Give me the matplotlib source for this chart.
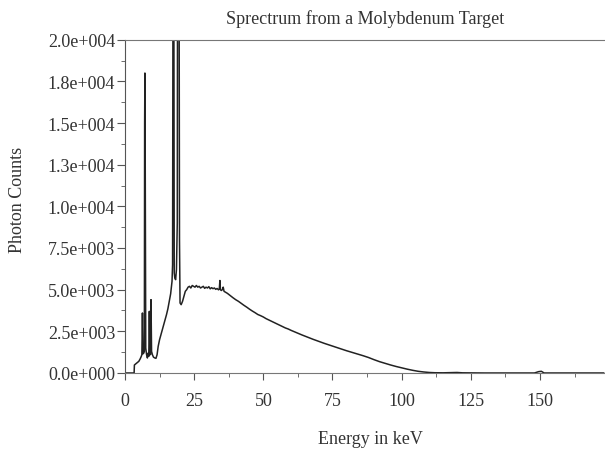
import matplotlib.pyplot as plt
from matplotlib.ticker import MultipleLocator

# === data ===
energy_kev = [0, 3.3, 3.4, 4.0, 4.5, 5.0, 5.5, 5.9, 6.1, 6.3, 6.5, 6.8, 7.0, 7.1, 7.2, 7.3,
              7.5, 7.8, 8.1, 8.4, 8.6, 8.8, 9.0, 9.2, 9.4, 9.6, 9.9, 10.3, 10.8, 11.2, 11.6,
              12.0, 12.5, 13.0, 13.5, 14.0, 14.5, 15.0, 15.5, 16.0, 16.5, 17.0, 17.2, 17.4,
              17.5, 17.6, 17.8, 18.0, 18.3, 18.6, 18.9, 19.1, 19.3, 19.5, 19.7, 19.9, 20.3,
              20.8, 21.3, 21.8, 22.3, 22.8, 23.3, 23.8, 24.3, 24.8, 25.3, 25.8, 26.3, 26.8,
              27.3, 27.8, 28.3, 28.8, 29.3, 29.8, 30.3, 30.8, 31.3, 31.8, 32.3, 32.8, 33.3,
              33.8, 34.1, 34.3, 34.5, 34.8, 35.2, 35.5, 35.8, 36.3, 37, 38, 39, 40, 41, 42,
              43, 44, 45, 46, 47, 48, 49, 50, 51, 52, 53, 54, 55, 56, 57, 58, 59, 60, 62, 64,
              66, 68, 70, 72, 74, 76, 78, 80, 82, 84, 86, 88, 90, 92, 94, 96, 98, 100, 102,
              104, 106, 108, 110, 112, 115, 120, 122, 125, 130, 140, 148, 149.5, 150.5,
              151.5, 173]
photon_counts = [0, 0, 480, 560, 620, 700, 850, 1000, 1100, 3600, 1150, 1200, 1300, 15000,
                 18000, 13500, 1500, 1100, 900, 1200, 1000, 3700, 1200, 1100, 4400, 1300,
                 1100, 950, 900, 880, 1100, 1600, 2000, 2300, 2600, 2900, 3200, 3500, 3850,
                 4300, 4750, 5500, 6500, 30000, 60000, 30000, 6000, 5700, 5600, 6200, 9000,
                 40000, 50000, 30000, 8000, 4200, 4100, 4300, 4600, 4900, 5000, 5150, 5200,
                 5100, 5250, 5200, 5150, 5250, 5150, 5200, 5100, 5150, 5200, 5080, 5150,
                 5100, 5180, 5050, 5120, 5060, 5100, 5020, 5070, 4990, 5050, 5550, 5000,
                 4950, 5000, 5150, 4900, 4850, 4780, 4650, 4520, 4400, 4300, 4180, 4060,
                 3950, 3830, 3720, 3620, 3510, 3440, 3360, 3260, 3180, 3100, 3020, 2940,
                 2860, 2780, 2700, 2640, 2560, 2420, 2280, 2150, 2020, 1900, 1780, 1670,
                 1560, 1450, 1340, 1240, 1140, 1040, 930, 800, 680, 580, 480, 390, 310,
                 230, 160, 100, 60, 30, 15, 10, 30, 10, 5, 0, 0, 0, 80, 100, 0, 0]

x_ticks = [0, 25, 50, 75, 100, 125, 150]
y_ticks = [0, 2500, 5000, 7500, 10000, 12500, 15000, 17500, 20000]
y_tick_labels = ['0.0e+000', '2.5e+003', '5.0e+003', '7.5e+003', '1.0e+004',
                 '1.3e+004', '1.5e+004', '1.8e+004', '2.0e+004']

plt.rcParams['font.family'] = ['Liberation Serif', 'DejaVu Serif']

fig = plt.figure(figsize=(6.05, 4.52), dpi=100)
ax = fig.add_axes([0.2066, 0.1726, 0.7934, 0.7374])

ax.plot(energy_kev, photon_counts, color='#222222', linewidth=1.1)

ax.set_xlim(0, 173.5)
ax.set_ylim(0, 20000)
ax.set_xticks(x_ticks)
ax.set_yticks(y_ticks)
ax.set_yticklabels(y_tick_labels)
ax.xaxis.set_minor_locator(MultipleLocator(12.5))
ax.yaxis.set_minor_locator(MultipleLocator(1250))

ax.tick_params(which='major', direction='out', length=6, color='#555555',
               labelsize=13, labelcolor='#333333')
ax.tick_params(axis='x', which='major', pad=9, length=5)
ax.tick_params(axis='y', which='major', pad=1)
ax.tick_params(which='minor', direction='out', length=3, color='#555555')

ax.spines['right'].set_visible(False)
ax.spines['top'].set_linestyle((0, (2, 1)))
ax.spines['top'].set_color('#777777')
ax.spines['top'].set_linewidth(0.8)
ax.spines['left'].set_color('#555555')
ax.spines['bottom'].set_color('#777777')

ax.set_title('Sprectrum from a Molybdenum Target', fontsize=13, color='#333333', pad=12)
fig.text(0.612, 1 - 440 / 452, 'Energy in keV', fontsize=13, color='#333333',
         ha='center', va='center')
fig.text(18 / 605, 1 - 200 / 452, 'Photon Counts', fontsize=13, color='#333333',
         ha='center', va='center', rotation=90)

fig.savefig('out.png', dpi=100)
